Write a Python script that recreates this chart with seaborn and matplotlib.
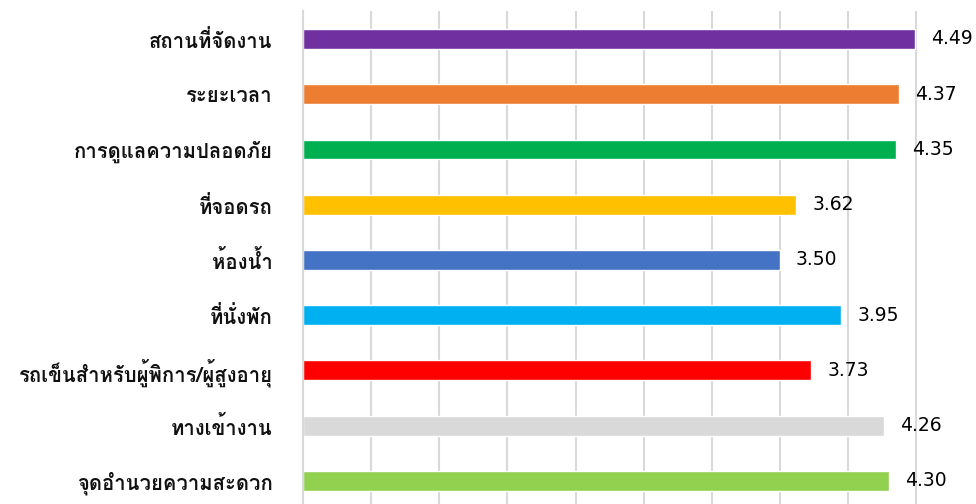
import matplotlib
matplotlib.use("Agg")
import matplotlib.pyplot as plt
import seaborn as sns
import pandas as pd

# Data
labels = ["สถานที่จัดงาน", "ระยะเวลา", "การดูแลความปลอดภัย", "ที่จอดรถ", "ห้องน้ำ",
          "ที่นั่งพัก", "รถเข็นสำหรับผู้พิการ/ผู้สูงอายุ", "ทางเข้างาน", "จุดอำนวยความสะดวก"]
scores = [4.49, 4.37, 4.35, 3.62, 3.50, 3.95, 3.73, 4.26, 4.30]
colors = ["#7030A0", "#ED7D31", "#00B050", "#FFC000", "#4472C4",
          "#00B0F0", "#FF0000", "#D9D9D9", "#92D050"]

df = pd.DataFrame({"label": labels, "score": scores})

sns.set_style("white")
# Loma keeps tone marks visible above upper vowels (no shaping in matplotlib)
plt.rcParams["font.family"] = ["Loma", "Sarabun", "DejaVu Sans"]

fig = plt.figure(figsize=(9.76, 5.04), dpi=100)
ax = fig.add_axes([303 / 976, -0.009, 673 / 976, 0.9865])
sns.barplot(data=df, y="label", x="score", hue="label", palette=colors,
            width=0.36, legend=False, ax=ax, orient="h", saturation=1)

ax.set_xlim(0, 673 / 136.3)
ax.set_ylim(8.5, -0.5)
ax.set_xticks([0.5 * i for i in range(1, 10)])
ax.xaxis.grid(True, color="#D9D9D9", linewidth=1.5)
ax.set_axisbelow(True)
ax.tick_params(axis="x", length=0, labelbottom=False)
ax.tick_params(axis="y", length=0, pad=22, labelsize=14.6, labelcolor="#111111")
for lbl in ax.get_yticklabels():
    lbl.set_fontweight("bold")
for s in ["top", "right", "bottom"]:
    ax.spines[s].set_visible(False)
ax.spines["left"].set_color("#D9D9D9")
ax.spines["left"].set_linewidth(1.5)
ax.set_xlabel("")
ax.set_ylabel("")

# value labels
for i, v in enumerate(scores):
    ax.annotate(f"{v:.2f}", (v, i), xytext=(16, 0), textcoords="offset pixels",
                va="center", ha="left", fontsize=13.5, color="#000000",
                family=["DejaVu Sans"])

fig.savefig("out.png", dpi=100)
